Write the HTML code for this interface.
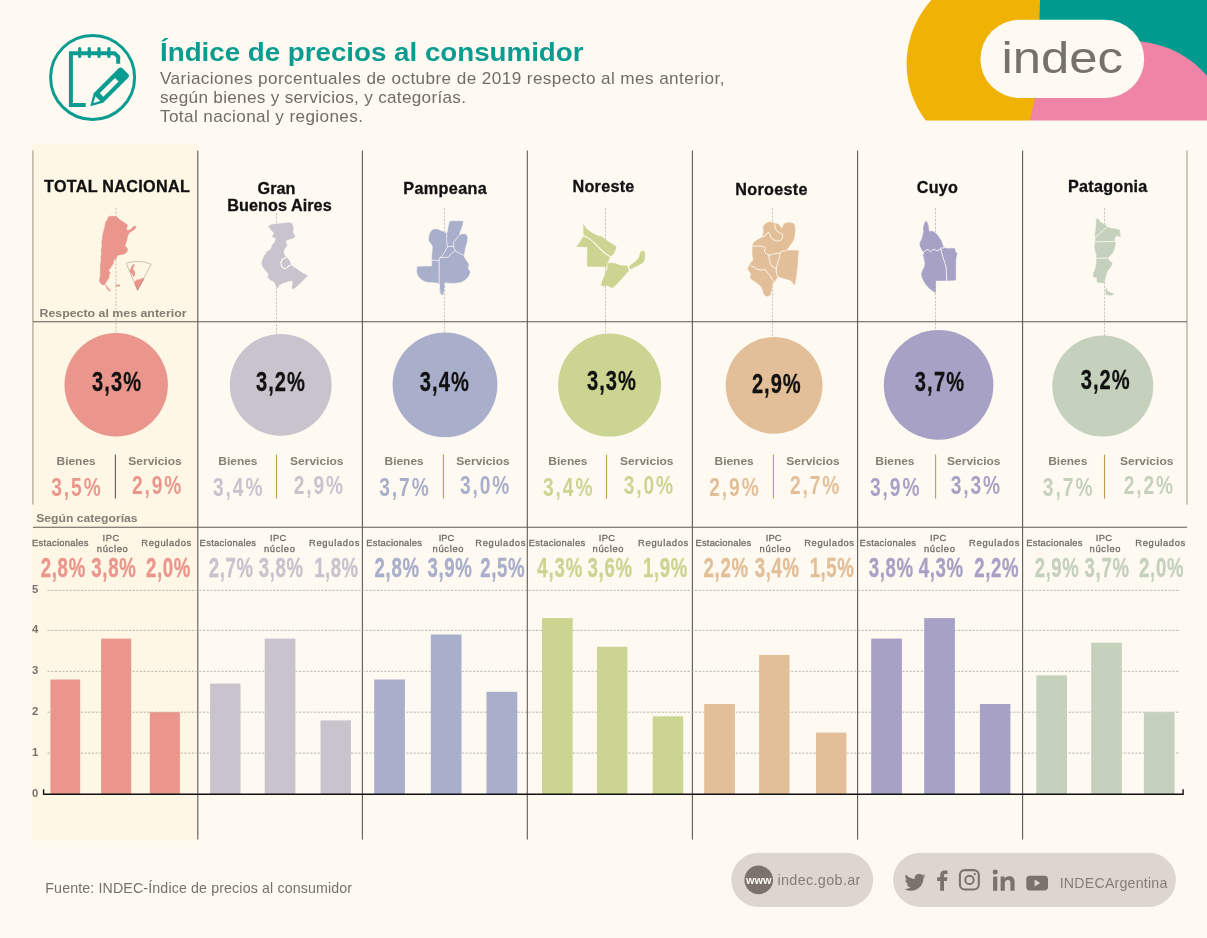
<!DOCTYPE html>
<html lang="es"><head><meta charset="utf-8"><title>Índice de precios al consumidor</title>
<style>html,body{margin:0;padding:0;background:#fefaf2;}body{width:1207px;height:938px;overflow:hidden;position:relative;font-family:"Liberation Sans",sans-serif;}svg{position:absolute;left:0;top:0;display:block}text{font-family:"Liberation Sans",sans-serif}.b{font-weight:bold}</style></head><body>
<svg width="1207" height="938" viewBox="0 0 1207 938">
<rect width="1207" height="938" fill="#fefaf2"/>
<g id="logo">
<g>
<circle cx="1000.7" cy="63.8" r="94.1" fill="#f0b205"/>
<path d="M1040 0 L1207 0 L1207 99 L1034.7 99 Q1039 50 1040 0Z" fill="#009b8e"/>
<circle cx="1131" cy="141" r="100" fill="#f084a6"/>
<path d="M1029.9 121 L1034.9 98 L1075 98 L1075 121Z" fill="#f084a6"/>
</g>
<rect x="880" y="120.5" width="327" height="125" fill="#fefaf2"/>
<rect x="980.4" y="19.7" width="163.8" height="78.4" rx="39.2" fill="#fefaf2"/>
<text x="1001.5" y="72.5" font-size="44.5" fill="#77716b" textLength="121.5" lengthAdjust="spacingAndGlyphs">indec</text>
</g>
<g id="icon" fill="none" stroke="#0a9c90">
<circle cx="92.6" cy="77.4" r="42" stroke-width="3"/>
<path d="M85.7 104.9 H70.9 V53.2 H114.5 L118.2 56.9 V63.8" stroke-width="4"/>
<line x1="79.7" y1="48.6" x2="79.7" y2="56.4" stroke-width="3.2" stroke-linecap="round"/>
<line x1="89.3" y1="48.6" x2="89.3" y2="56.4" stroke-width="3.2" stroke-linecap="round"/>
<line x1="99.0" y1="48.6" x2="99.0" y2="56.4" stroke-width="3.2" stroke-linecap="round"/>
<line x1="108.9" y1="48.6" x2="108.9" y2="56.4" stroke-width="3.2" stroke-linecap="round"/>
<g transform="translate(90.3 106.2) rotate(-45)">
<path d="M0 0 L11.5 -6.7 H46.5 a3 3 0 0 1 3 3 V3.7 a3 3 0 0 1 -3 3 H11.5 Z" fill="#0a9c90" stroke="none"/>
<path d="M4.4 0 L10.6 -3.3 V3.3 Z" fill="#fefaf2" stroke="none"/>
<rect x="16" y="-2.5" width="21.5" height="5" fill="#fefaf2" stroke="none"/>
</g></g>
<text x="160.0" y="60.6" font-size="26.5" fill="#0a9c90" class="b" textLength="423.5" lengthAdjust="spacingAndGlyphs">Índice de precios al consumidor</text>
<text transform="translate(160.0 84.1) scale(1.060 1)" font-size="16.2" fill="#726c66" textLength="532.5" lengthAdjust="spacing">Variaciones porcentuales de octubre de 2019 respecto al mes anterior,</text>
<text transform="translate(160.0 103.2) scale(1.060 1)" font-size="16.2" fill="#726c66" textLength="288.7" lengthAdjust="spacing">según bienes y servicios, y categorías.</text>
<text transform="translate(160.0 121.6) scale(1.060 1)" font-size="16.2" fill="#726c66" textLength="191.5" lengthAdjust="spacing">Total nacional y regiones.</text>
<rect x="31.9" y="144.2" width="165.5" height="696.6" fill="#fef7e5"/>
<line x1="32.9" y1="150.5" x2="32.9" y2="504.5" stroke="#a39d91" stroke-width="1.1"/>
<line x1="197.8" y1="150.5" x2="197.8" y2="839.4" stroke="#5e5a54" stroke-width="1.1"/>
<line x1="362.4" y1="150.5" x2="362.4" y2="839.4" stroke="#5e5a54" stroke-width="1.1"/>
<line x1="527.3" y1="150.5" x2="527.3" y2="839.4" stroke="#5e5a54" stroke-width="1.1"/>
<line x1="692.4" y1="150.5" x2="692.4" y2="839.4" stroke="#5e5a54" stroke-width="1.1"/>
<line x1="857.6" y1="150.5" x2="857.6" y2="839.4" stroke="#5e5a54" stroke-width="1.1"/>
<line x1="1022.6" y1="150.5" x2="1022.6" y2="839.4" stroke="#5e5a54" stroke-width="1.1"/>
<line x1="1187.0" y1="150.5" x2="1187.0" y2="504.5" stroke="#a39d91" stroke-width="1.1"/>
<line x1="32.9" y1="321.7" x2="1187" y2="321.7" stroke="#5e5a54" stroke-width="1.1"/>
<line x1="32.9" y1="527.3" x2="1187" y2="527.3" stroke="#5e5a54" stroke-width="1.1"/>
<line x1="47.5" y1="753.1" x2="1180" y2="753.1" stroke="#aaa59d" stroke-width="0.8" stroke-dasharray="2.2 1.5"/>
<line x1="47.5" y1="712.2" x2="1180" y2="712.2" stroke="#aaa59d" stroke-width="0.8" stroke-dasharray="2.2 1.5"/>
<line x1="47.5" y1="671.3" x2="1180" y2="671.3" stroke="#aaa59d" stroke-width="0.8" stroke-dasharray="2.2 1.5"/>
<line x1="47.5" y1="630.4" x2="1180" y2="630.4" stroke="#aaa59d" stroke-width="0.8" stroke-dasharray="2.2 1.5"/>
<line x1="47.5" y1="590.4" x2="1180" y2="590.4" stroke="#aaa59d" stroke-width="0.8" stroke-dasharray="2.2 1.5"/>
<text class="b" x="35.2" y="796.5" font-size="11.3" text-anchor="middle" fill="#77716b">0</text>
<text class="b" x="35.2" y="755.6" font-size="11.3" text-anchor="middle" fill="#77716b">1</text>
<text class="b" x="35.2" y="714.7" font-size="11.3" text-anchor="middle" fill="#77716b">2</text>
<text class="b" x="35.2" y="673.8" font-size="11.3" text-anchor="middle" fill="#77716b">3</text>
<text class="b" x="35.2" y="632.9" font-size="11.3" text-anchor="middle" fill="#77716b">4</text>
<text class="b" x="35.2" y="592.9" font-size="11.3" text-anchor="middle" fill="#77716b">5</text>
<text x="39.5" y="316.9" font-size="11.4" fill="#837c72" class="b" textLength="147.0" lengthAdjust="spacingAndGlyphs">Respecto al mes anterior</text>
<text x="36.2" y="521.9" font-size="11.4" fill="#837c72" class="b" textLength="101.4" lengthAdjust="spacingAndGlyphs">Según categorías</text>
<g id="col0">
<line x1="115.9" y1="208" x2="115.9" y2="334.1" stroke="#bab5ad" stroke-width="0.8" stroke-dasharray="2.2 1.5"/>
<path d="M108.6 216.8L110.9 216.2L113.6 216.5L115.9 216.3L117.7 217.7L119.5 219.5L122.2 221.3L125.4 223.6L127.5 225.0L126.9 227.2L126.3 229.5L128.1 230.4L130.4 229.5L132.6 227.7L134.0 226.1L135.6 226.3L135.8 227.7L134.4 229.5L132.2 230.9L129.9 232.2L128.5 234.0L127.6 236.3L126.9 239.0L126.3 241.7L125.4 244.5L124.9 246.3L126.3 247.2L127.5 249.0L127.2 251.3L125.8 253.1L124.0 254.0L121.7 254.4L119.0 254.9L116.8 255.8L116.6 258.1L115.4 259.4L113.6 259.9L113.1 262.1L113.6 263.0L112.7 264.4L111.3 266.2L110.4 268.0L109.1 269.4L108.6 270.7L110.0 272.6L109.7 274.4L108.6 275.3L109.5 277.1L108.1 278.9L106.8 280.7L105.9 282.5L105.0 283.9L104.1 284.8L102.3 284.8L100.4 283.0L99.4 280.7L100.0 278.0L100.4 275.3L100.3 271.7L100.6 268.0L100.4 264.4L101.2 260.8L100.9 257.1L101.5 253.5L101.3 249.9L102.1 246.3L101.8 242.6L102.3 239.0L102.7 235.4L103.3 232.7L104.1 229.9L104.8 227.2L105.2 224.5L105.9 221.8L107.2 220.0L108.1 218.2Z" fill="#ea968c" stroke="#ea968c" stroke-width="0.6" stroke-linejoin="round"/>
<path d="M105.4 284.8L106.3 287.1L107.2 288.9L108.6 290.2L110.9 291.1L110.0 290.0L108.6 288.7L107.2 286.9Z" fill="#ea968c" stroke="#ea968c" stroke-width="0.6" stroke-linejoin="round"/>
<path d="M115.9 284.9L119.7 284.9L119.9 286.0L116.0 286.2Z" fill="#ea968c" stroke="#ea968c" stroke-width="0.6" stroke-linejoin="round"/>
<path d="M133.1 264.4L134.4 264.9L133.5 267.1L132.6 268.9L134.0 270.7L134.9 272.6L134.4 274.4L134.9 275.7L133.5 276.2L132.2 274.4L130.8 272.6L129.9 270.7L130.8 268.9L131.7 266.7Z" fill="#ea968c" stroke="#ea968c" stroke-width="0.6" stroke-linejoin="round"/>
<path d="M134.9 281.6L136.3 280.7L137.2 279.4L138.5 280.3L139.9 278.9L141.2 279.4L142.1 278.0L144.0 278.9L137.6 290.2L135.8 286.2L134.9 283.4Z" fill="#ea968c" stroke="#ea968c" stroke-width="0.6" stroke-linejoin="round"/>
<path d="M137.6 290.2L126.3 263.5L128.5 262.4L135.8 261.5L144.0 261.9L151.2 264.2Z" fill="none" stroke="#9a8680" stroke-width="0.5" stroke-linejoin="round"/>
<text x="44.0" y="192.3" font-size="16.2" fill="#111" class="b" textLength="145.8" lengthAdjust="spacing" stroke="#111" stroke-width="0.3">TOTAL NACIONAL</text>
<circle cx="116.2" cy="384.8" r="51.7" fill="#ea968c"/>
<text class="b" transform="translate(92.10 390.6) scale(0.750 1)" font-size="26.8" fill="#111" letter-spacing="1.46" stroke="#111" stroke-width="0.30">3,3%</text>
<line x1="115.4" y1="454.6" x2="115.4" y2="498.6" stroke="#625a66" stroke-width="1.1"/>
<text x="56.5" y="464.8" font-size="11.2" fill="#857e74" class="b" textLength="39.2" lengthAdjust="spacingAndGlyphs">Bienes</text>
<text x="128.3" y="464.8" font-size="11.2" fill="#857e74" class="b" textLength="53.4" lengthAdjust="spacingAndGlyphs">Servicios</text>
<text class="b" transform="translate(51.13 495.8) scale(0.740 1)" font-size="25.9" fill="#ea968c" letter-spacing="2.68">3,5%</text>
<text class="b" transform="translate(131.93 494.4) scale(0.740 1)" font-size="25.9" fill="#ea968c" letter-spacing="2.55">2,9%</text>
<text x="32.0" y="546.0" font-size="9.4" fill="#726c66" textLength="56.4" lengthAdjust="spacing" stroke="#726c66" stroke-width="0.3">Estacionales</text>
<text x="102.5" y="541.3" font-size="9.4" fill="#726c66" textLength="16.7" lengthAdjust="spacing" stroke="#726c66" stroke-width="0.3">IPC</text>
<text x="96.8" y="551.5" font-size="9.4" fill="#726c66" textLength="31.0" lengthAdjust="spacing" stroke="#726c66" stroke-width="0.3">núcleo</text>
<text x="141.3" y="546.0" font-size="9.4" fill="#726c66" textLength="49.9" lengthAdjust="spacing" stroke="#726c66" stroke-width="0.3">Regulados</text>
<rect x="50.4" y="679.5" width="29.8" height="114.5" fill="#ea968c"/>
<rect x="101.1" y="638.6" width="30.1" height="155.4" fill="#ea968c"/>
<rect x="149.8" y="712.2" width="30.1" height="81.8" fill="#ea968c"/>
<text class="b" transform="translate(40.65 577.0) scale(0.690 1)" font-size="27" fill="#ea968c" letter-spacing="1.03" stroke="#ea968c" stroke-width="0.35">2,8%</text>
<text class="b" transform="translate(91.25 577.0) scale(0.690 1)" font-size="27" fill="#ea968c" letter-spacing="1.08" stroke="#ea968c" stroke-width="0.35">3,8%</text>
<text class="b" transform="translate(145.95 577.0) scale(0.690 1)" font-size="27" fill="#ea968c" letter-spacing="0.94" stroke="#ea968c" stroke-width="0.35">2,0%</text>
</g>
<g id="col1">
<line x1="276.5" y1="213" x2="276.5" y2="334.9" stroke="#bab5ad" stroke-width="0.8" stroke-dasharray="2.2 1.5"/>
<path d="M268.6 226.1L272.1 224.5L276.3 224.0L280.6 223.7L284.8 223.1L289.1 222.8L291.7 223.5L292.9 226.1L293.2 229.5L292.5 232.1L293.8 234.2L295.1 236.3L293.8 237.8L291.7 238.4L289.1 239.3L286.5 240.1L285.3 242.3L287.0 244.0L286.5 246.5L284.8 247.8L284.0 250.0L283.6 252.5L284.4 255.1L285.7 256.8L287.0 258.1L288.7 259.8L290.0 262.3L290.8 265.3L293.4 267.0L296.8 269.1L300.2 271.7L304.4 274.2L307.4 275.7L305.3 278.1L302.3 281.1L299.3 284.1L295.9 287.0L292.9 289.2L292.1 286.6L292.9 283.2L292.5 280.6L289.1 281.1L285.7 281.9L282.3 283.2L279.3 284.9L277.6 287.5L275.9 285.8L275.0 282.8L272.9 281.1L270.8 280.2L268.6 278.1L267.8 276.0L269.1 274.7L266.9 272.1L264.8 269.6L262.7 266.2L261.8 262.7L263.1 258.5L264.4 255.9L266.1 253.4L266.9 251.7L270.3 250.0L271.6 247.4L272.5 244.8L274.6 243.1L275.5 240.6L276.3 238.4L274.2 237.6L272.5 236.7L273.3 234.6L274.2 232.9L271.6 230.3L269.9 228.6Z" fill="#c8c3cc" stroke="#c8c3cc" stroke-width="0.6" stroke-linejoin="round"/>
<path d="M285.9 257.5L282.5 259.3L280.7 262.7L281.8 266.6L284.4 268.7L287.4 267.2L290.0 265.1" fill="none" stroke="#fefaf2" stroke-width="1.20" stroke-linejoin="round" stroke-linecap="round"/>
<text x="257.6" y="193.8" font-size="16.2" fill="#111" class="b" textLength="37.9" lengthAdjust="spacing" stroke="#111" stroke-width="0.3">Gran</text>
<text x="227.2" y="211.2" font-size="16.2" fill="#111" class="b" textLength="104.5" lengthAdjust="spacing" stroke="#111" stroke-width="0.3">Buenos Aires</text>
<circle cx="280.7" cy="384.8" r="50.9" fill="#c8c3cc"/>
<text class="b" transform="translate(256.00 390.9) scale(0.750 1)" font-size="26.8" fill="#111" letter-spacing="1.33" stroke="#111" stroke-width="0.30">3,2%</text>
<line x1="276.5" y1="454.6" x2="276.5" y2="498.6" stroke="#c09a50" stroke-width="1.1"/>
<text x="218.3" y="464.8" font-size="11.2" fill="#857e74" class="b" textLength="39.2" lengthAdjust="spacingAndGlyphs">Bienes</text>
<text x="290.1" y="464.8" font-size="11.2" fill="#857e74" class="b" textLength="53.4" lengthAdjust="spacingAndGlyphs">Servicios</text>
<text class="b" transform="translate(212.93 495.8) scale(0.740 1)" font-size="25.9" fill="#c8c3cc" letter-spacing="2.68">3,4%</text>
<text class="b" transform="translate(293.73 494.4) scale(0.740 1)" font-size="25.9" fill="#c8c3cc" letter-spacing="2.55">2,9%</text>
<text x="199.6" y="546.0" font-size="9.4" fill="#726c66" textLength="56.4" lengthAdjust="spacing" stroke="#726c66" stroke-width="0.3">Estacionales</text>
<text x="270.0" y="541.3" font-size="9.4" fill="#726c66" textLength="16.4" lengthAdjust="spacing" stroke="#726c66" stroke-width="0.3">IPC</text>
<text x="263.9" y="551.5" font-size="9.4" fill="#726c66" textLength="31.0" lengthAdjust="spacing" stroke="#726c66" stroke-width="0.3">núcleo</text>
<text x="308.9" y="546.0" font-size="9.4" fill="#726c66" textLength="50.5" lengthAdjust="spacing" stroke="#726c66" stroke-width="0.3">Regulados</text>
<rect x="210.1" y="683.6" width="30.4" height="110.4" fill="#c8c3cc"/>
<rect x="264.7" y="638.6" width="30.7" height="155.4" fill="#c8c3cc"/>
<rect x="320.5" y="720.4" width="30.4" height="73.6" fill="#c8c3cc"/>
<text class="b" transform="translate(208.75 577.0) scale(0.690 1)" font-size="27" fill="#c8c3cc" letter-spacing="0.94" stroke="#c8c3cc" stroke-width="0.35">2,7%</text>
<text class="b" transform="translate(258.85 577.0) scale(0.690 1)" font-size="27" fill="#c8c3cc" letter-spacing="0.84" stroke="#c8c3cc" stroke-width="0.35">3,8%</text>
<text class="b" transform="translate(314.35 577.0) scale(0.690 1)" font-size="27" fill="#c8c3cc" letter-spacing="0.55" stroke="#c8c3cc" stroke-width="0.35">1,8%</text>
</g>
<g id="col2">
<line x1="444.6" y1="208" x2="444.6" y2="333.4" stroke="#bab5ad" stroke-width="0.8" stroke-dasharray="2.2 1.5"/>
<path d="M450.1 221.2L462.8 221.2L462.3 225.0L461.0 228.6L459.6 232.2L458.7 235.9L461.4 234.5L464.1 234.0L466.4 234.9L467.3 237.7L466.9 241.3L465.9 244.9L465.0 248.5L464.4 251.3L463.7 254.9L464.1 257.6L465.9 260.3L467.8 263.1L468.7 264.9L467.8 267.1L468.2 269.4L470.0 271.7L469.1 274.8L467.3 277.6L465.0 279.8L461.9 281.6L458.2 282.5L453.7 283.0L449.2 282.8L445.5 282.3L443.7 282.5L444.2 285.7L443.9 289.3L443.3 293.0L442.4 294.8L440.1 293.4L439.7 289.3L440.1 285.7L439.2 283.4L436.5 282.5L431.9 282.1L427.4 281.9L423.8 280.7L420.6 278.5L418.3 275.7L417.0 272.1L417.3 266.9L422.0 266.7L427.4 266.5L432.1 266.5L432.1 260.3L432.1 255.8L432.7 251.3L433.0 246.7L431.5 244.0L429.2 241.3L429.0 237.7L429.7 234.0L431.5 230.9L433.8 229.3L437.4 229.5L441.0 230.9L444.2 232.2L446.9 234.0L447.8 231.3L448.7 226.8L449.4 223.2Z" fill="#a9aeca" stroke="#a9aeca" stroke-width="0.6" stroke-linejoin="round"/>
<path d="M446.9 234.0L446.5 238.6L446.9 243.1L447.5 246.7L445.1 251.3L442.4 255.3L440.1 257.6L439.2 260.3L439.2 283.4L440.1 293.4" fill="none" stroke="#fefaf2" stroke-width="0.75" stroke-linejoin="round" stroke-linecap="round"/>
<path d="M432.1 260.3L439.2 260.3" fill="none" stroke="#fefaf2" stroke-width="0.75" stroke-linejoin="round" stroke-linecap="round"/>
<path d="M458.7 235.9L455.5 239.9L453.7 242.2L453.7 246.7L455.1 250.8L459.1 253.1L464.1 255.3" fill="none" stroke="#fefaf2" stroke-width="0.75" stroke-linejoin="round" stroke-linecap="round"/>
<path d="M455.1 250.8L451.9 253.1L448.3 257.2L440.1 257.6" fill="none" stroke="#fefaf2" stroke-width="0.75" stroke-linejoin="round" stroke-linecap="round"/>
<path d="M447.5 246.7L450.1 246.3L453.7 246.7" fill="none" stroke="#fefaf2" stroke-width="0.75" stroke-linejoin="round" stroke-linecap="round"/>
<text x="403.2" y="193.8" font-size="16.2" fill="#111" class="b" textLength="83.6" lengthAdjust="spacing" stroke="#111" stroke-width="0.3">Pampeana</text>
<circle cx="445.0" cy="384.8" r="52.4" fill="#a9aeca"/>
<text class="b" transform="translate(419.70 390.9) scale(0.750 1)" font-size="26.8" fill="#111" letter-spacing="1.55" stroke="#111" stroke-width="0.30">3,4%</text>
<line x1="443.4" y1="454.6" x2="443.4" y2="498.6" stroke="#c09a50" stroke-width="1.1"/>
<text x="384.5" y="464.8" font-size="11.2" fill="#857e74" class="b" textLength="39.2" lengthAdjust="spacingAndGlyphs">Bienes</text>
<text x="456.3" y="464.8" font-size="11.2" fill="#857e74" class="b" textLength="53.4" lengthAdjust="spacingAndGlyphs">Servicios</text>
<text class="b" transform="translate(379.13 495.8) scale(0.740 1)" font-size="25.9" fill="#a9aeca" letter-spacing="2.68">3,7%</text>
<text class="b" transform="translate(459.93 494.4) scale(0.740 1)" font-size="25.9" fill="#a9aeca" letter-spacing="2.55">3,0%</text>
<text x="366.3" y="546.0" font-size="9.4" fill="#726c66" textLength="55.7" lengthAdjust="spacing" stroke="#726c66" stroke-width="0.3">Estacionales</text>
<text x="438.7" y="541.3" font-size="9.4" fill="#726c66" textLength="15.7" lengthAdjust="spacing" stroke="#726c66" stroke-width="0.3">IPC</text>
<text x="432.5" y="551.5" font-size="9.4" fill="#726c66" textLength="31.0" lengthAdjust="spacing" stroke="#726c66" stroke-width="0.3">núcleo</text>
<text x="475.3" y="546.0" font-size="9.4" fill="#726c66" textLength="50.1" lengthAdjust="spacing" stroke="#726c66" stroke-width="0.3">Regulados</text>
<rect x="374.2" y="679.5" width="30.7" height="114.5" fill="#a9aeca"/>
<rect x="430.8" y="634.5" width="30.7" height="159.5" fill="#a9aeca"/>
<rect x="486.5" y="691.8" width="30.8" height="102.2" fill="#a9aeca"/>
<text class="b" transform="translate(374.55 577.0) scale(0.690 1)" font-size="27" fill="#a9aeca" letter-spacing="0.94" stroke="#a9aeca" stroke-width="0.35">2,8%</text>
<text class="b" transform="translate(427.45 577.0) scale(0.690 1)" font-size="27" fill="#a9aeca" letter-spacing="0.94" stroke="#a9aeca" stroke-width="0.35">3,9%</text>
<text class="b" transform="translate(480.15 577.0) scale(0.690 1)" font-size="27" fill="#a9aeca" letter-spacing="0.94" stroke="#a9aeca" stroke-width="0.35">2,5%</text>
</g>
<g id="col3">
<line x1="605.5" y1="208" x2="605.5" y2="334.6" stroke="#bab5ad" stroke-width="0.8" stroke-dasharray="2.2 1.5"/>
<path d="M583.5 224.6L585.4 227.7L588.5 230.4L592.7 233.4L597.3 235.7L601.2 236.5L604.2 238.8L608.1 241.5L611.9 243.8L616.1 246.5L615.4 249.9L613.8 253.0L611.1 256.5L608.1 254.5L604.2 251.8L600.8 248.8L597.3 244.9L593.5 241.5L589.7 238.4L585.8 236.1L583.9 235.0L583.7 230.0Z" fill="#ccd492" stroke="#ccd492" stroke-width="0.6" stroke-linejoin="round"/>
<path d="M583.4 236.5L585.4 237.3L589.3 239.6L593.1 242.6L596.9 246.5L600.4 250.3L603.8 253.4L607.7 255.9L609.6 257.2L608.5 260.7L606.9 264.1L606.7 266.4L597.3 266.4L587.3 266.3L587.3 256.8L587.7 246.9L582.0 246.7L576.6 246.5L580.1 242.3Z" fill="#ccd492" stroke="#ccd492" stroke-width="0.6" stroke-linejoin="round"/>
<path d="M608.1 263.4L611.9 263.0L615.7 263.7L619.6 265.3L624.2 266.0L626.9 265.7L627.6 268.0L628.8 270.7L625.7 274.1L621.9 278.3L617.7 282.9L613.8 286.8L611.9 287.9L609.6 286.4L606.9 285.2L603.8 286.0L601.2 285.6L602.3 281.4L604.2 276.8L606.2 272.2L607.7 267.6Z" fill="#ccd492" stroke="#ccd492" stroke-width="0.6" stroke-linejoin="round"/>
<path d="M629.2 266.4L632.6 263.7L636.5 260.7L639.5 256.8L640.3 253.0L641.8 251.1L644.1 251.5L644.9 254.5L644.5 259.1L643.0 262.6L639.5 264.5L635.7 266.4L632.2 268.3L630.3 269.1Z" fill="#ccd492" stroke="#ccd492" stroke-width="0.6" stroke-linejoin="round"/>
<path d="M583.4 235.7L585.8 236.7L589.7 239.0L593.5 242.1L597.3 245.7L600.8 249.5L604.2 252.6L608.1 255.2L610.8 257.0" fill="none" stroke="#fefaf2" stroke-width="1.00" stroke-linejoin="round" stroke-linecap="round"/>
<text x="572.5" y="192.0" font-size="16.2" fill="#111" class="b" textLength="61.8" lengthAdjust="spacing" stroke="#111" stroke-width="0.3">Noreste</text>
<circle cx="609.6" cy="385.1" r="51.5" fill="#ccd492"/>
<text class="b" transform="translate(587.10 389.8) scale(0.750 1)" font-size="26.8" fill="#111" letter-spacing="1.33" stroke="#111" stroke-width="0.30">3,3%</text>
<line x1="606.5" y1="454.6" x2="606.5" y2="498.6" stroke="#c09a50" stroke-width="1.1"/>
<text x="548.3" y="464.8" font-size="11.2" fill="#857e74" class="b" textLength="39.2" lengthAdjust="spacingAndGlyphs">Bienes</text>
<text x="620.1" y="464.8" font-size="11.2" fill="#857e74" class="b" textLength="53.4" lengthAdjust="spacingAndGlyphs">Servicios</text>
<text class="b" transform="translate(542.93 495.8) scale(0.740 1)" font-size="25.9" fill="#ccd492" letter-spacing="2.68">3,4%</text>
<text class="b" transform="translate(623.73 494.4) scale(0.740 1)" font-size="25.9" fill="#ccd492" letter-spacing="2.55">3,0%</text>
<text x="528.8" y="546.0" font-size="9.4" fill="#726c66" textLength="56.3" lengthAdjust="spacing" stroke="#726c66" stroke-width="0.3">Estacionales</text>
<text x="598.7" y="541.3" font-size="9.4" fill="#726c66" textLength="16.3" lengthAdjust="spacing" stroke="#726c66" stroke-width="0.3">IPC</text>
<text x="592.5" y="551.5" font-size="9.4" fill="#726c66" textLength="31.0" lengthAdjust="spacing" stroke="#726c66" stroke-width="0.3">núcleo</text>
<text x="638.1" y="546.0" font-size="9.4" fill="#726c66" textLength="50.1" lengthAdjust="spacing" stroke="#726c66" stroke-width="0.3">Regulados</text>
<rect x="542.0" y="618.1" width="30.7" height="175.9" fill="#ccd492"/>
<rect x="597.0" y="646.8" width="30.4" height="147.2" fill="#ccd492"/>
<rect x="652.7" y="716.3" width="30.5" height="77.7" fill="#ccd492"/>
<text class="b" transform="translate(537.35 577.0) scale(0.690 1)" font-size="27" fill="#ccd492" letter-spacing="1.23" stroke="#ccd492" stroke-width="0.35">4,3%</text>
<text class="b" transform="translate(587.45 577.0) scale(0.690 1)" font-size="27" fill="#ccd492" letter-spacing="1.08" stroke="#ccd492" stroke-width="0.35">3,6%</text>
<text class="b" transform="translate(642.95 577.0) scale(0.690 1)" font-size="27" fill="#ccd492" letter-spacing="0.94" stroke="#ccd492" stroke-width="0.35">1,9%</text>
</g>
<g id="col4">
<line x1="772.6" y1="208" x2="772.6" y2="338.0" stroke="#bab5ad" stroke-width="0.8" stroke-dasharray="2.2 1.5"/>
<path d="M764.3 225.0L767.3 222.8L770.0 221.9L772.6 222.8L775.2 223.7L777.8 224.1L779.6 225.4L780.9 227.6L782.2 228.9L783.1 226.3L784.4 223.7L787.5 222.8L791.0 222.8L794.0 224.1L794.9 227.6L794.9 232.0L794.4 236.4L793.6 239.9L791.4 243.3L789.2 246.0L787.5 248.6L786.1 250.8L791.0 250.5L798.4 250.8L797.9 257.3L797.5 264.3L796.6 272.2L795.8 279.2L794.4 284.9L792.7 282.2L790.1 280.1L785.7 278.8L781.3 277.4L777.8 276.6L776.5 278.3L775.2 280.9L772.6 283.1L771.7 287.1L771.3 290.6L770.4 294.5L768.2 296.2L765.6 295.8L763.9 294.0L763.0 290.6L761.7 287.1L758.6 284.0L755.1 281.4L751.6 279.2L750.3 277.4L751.2 273.9L749.4 271.3L747.7 269.1L749.4 265.6L751.2 262.6L753.4 260.0L752.9 256.5L752.5 253.0L752.7 248.6L752.9 245.1L753.8 242.5L756.9 240.3L760.4 238.5L762.5 236.8L763.4 233.7L763.9 230.2L763.0 227.6Z" fill="#e2bf98" stroke="#e2bf98" stroke-width="0.6" stroke-linejoin="round"/>
<path d="M762.5 236.8L765.2 235.9L766.9 233.3L768.7 232.4L770.0 234.6L770.8 237.7L773.9 239.9L777.8 241.2L780.9 240.3L782.6 237.7L782.6 234.2L779.6 232.9L777.0 231.1L775.2 228.1L774.8 224.6" fill="none" stroke="#fefaf2" stroke-width="0.90" stroke-linejoin="round" stroke-linecap="round"/>
<path d="M752.9 246.1L757.7 246.1L763.0 246.4L765.6 248.2L764.3 251.2L766.5 253.8L769.1 255.2L772.6 254.3L777.0 253.4L780.5 253.0L781.8 251.2L786.1 250.8" fill="none" stroke="#fefaf2" stroke-width="0.90" stroke-linejoin="round" stroke-linecap="round"/>
<path d="M780.5 253.0L779.6 256.5L778.3 260.8L777.0 265.2L776.1 269.6L776.5 273.9L777.8 276.6" fill="none" stroke="#fefaf2" stroke-width="0.90" stroke-linejoin="round" stroke-linecap="round"/>
<path d="M768.7 255.2L769.1 259.1L770.4 263.5L772.2 266.5L775.2 267.8L776.3 269.6" fill="none" stroke="#fefaf2" stroke-width="0.90" stroke-linejoin="round" stroke-linecap="round"/>
<path d="M750.7 265.6L754.2 267.4L757.7 269.6L762.1 270.0L765.2 269.6L767.3 272.6L770.0 275.7L772.2 279.2L773.9 281.4" fill="none" stroke="#fefaf2" stroke-width="0.90" stroke-linejoin="round" stroke-linecap="round"/>
<text x="735.3" y="194.8" font-size="16.2" fill="#111" class="b" textLength="72.2" lengthAdjust="spacing" stroke="#111" stroke-width="0.3">Noroeste</text>
<circle cx="774.1" cy="385.4" r="48.4" fill="#e2bf98"/>
<text class="b" transform="translate(751.90 392.6) scale(0.750 1)" font-size="26.8" fill="#111" letter-spacing="1.33" stroke="#111" stroke-width="0.30">2,9%</text>
<line x1="773.4" y1="454.6" x2="773.4" y2="498.6" stroke="#c09a50" stroke-width="1.1"/>
<text x="714.5" y="464.8" font-size="11.2" fill="#857e74" class="b" textLength="39.2" lengthAdjust="spacingAndGlyphs">Bienes</text>
<text x="786.3" y="464.8" font-size="11.2" fill="#857e74" class="b" textLength="53.4" lengthAdjust="spacingAndGlyphs">Servicios</text>
<text class="b" transform="translate(709.13 495.8) scale(0.740 1)" font-size="25.9" fill="#e2bf98" letter-spacing="2.68">2,9%</text>
<text class="b" transform="translate(789.93 494.4) scale(0.740 1)" font-size="25.9" fill="#e2bf98" letter-spacing="2.55">2,7%</text>
<text x="695.4" y="546.0" font-size="9.4" fill="#726c66" textLength="55.8" lengthAdjust="spacing" stroke="#726c66" stroke-width="0.3">Estacionales</text>
<text x="765.8" y="541.3" font-size="9.4" fill="#726c66" textLength="15.8" lengthAdjust="spacing" stroke="#726c66" stroke-width="0.3">IPC</text>
<text x="759.6" y="551.5" font-size="9.4" fill="#726c66" textLength="31.0" lengthAdjust="spacing" stroke="#726c66" stroke-width="0.3">núcleo</text>
<text x="804.2" y="546.0" font-size="9.4" fill="#726c66" textLength="49.8" lengthAdjust="spacing" stroke="#726c66" stroke-width="0.3">Regulados</text>
<rect x="704.2" y="704.0" width="30.7" height="90.0" fill="#e2bf98"/>
<rect x="759.1" y="654.9" width="30.4" height="139.1" fill="#e2bf98"/>
<rect x="816.0" y="732.6" width="30.4" height="61.3" fill="#e2bf98"/>
<text class="b" transform="translate(703.45 577.0) scale(0.690 1)" font-size="27" fill="#e2bf98" letter-spacing="1.03" stroke="#e2bf98" stroke-width="0.35">2,2%</text>
<text class="b" transform="translate(754.65 577.0) scale(0.690 1)" font-size="27" fill="#e2bf98" letter-spacing="0.94" stroke="#e2bf98" stroke-width="0.35">3,4%</text>
<text class="b" transform="translate(809.65 577.0) scale(0.690 1)" font-size="27" fill="#e2bf98" letter-spacing="0.79" stroke="#e2bf98" stroke-width="0.35">1,5%</text>
</g>
<g id="col5">
<line x1="935.5" y1="208" x2="935.5" y2="331.1" stroke="#bab5ad" stroke-width="0.8" stroke-dasharray="2.2 1.5"/>
<path d="M925.8 220.9L927.3 222.9L928.2 225.5L928.6 229.0L929.0 231.6L932.1 231.2L934.7 232.5L937.3 235.1L939.5 238.2L941.3 241.2L942.6 244.7L943.5 247.8L947.0 248.7L951.3 248.4L954.8 248.7L955.3 251.7L957.0 253.5L956.1 257.0L955.7 260.5L955.7 280.1L947.0 280.4L935.6 280.6L935.6 284.9L935.4 292.4L933.0 291.0L929.5 288.4L926.4 284.9L923.8 281.0L922.1 277.1L921.6 273.6L922.9 270.1L924.7 266.6L925.1 263.1L924.2 258.7L923.4 255.2L924.2 252.6L922.1 250.0L919.9 245.6L920.3 242.1L922.1 238.6L922.9 235.1L923.8 231.6L923.4 228.1L924.2 224.6Z" fill="#a8a1c6" stroke="#a8a1c6" stroke-width="0.6" stroke-linejoin="round"/>
<path d="M923.8 252.2L926.0 250.0L928.2 249.5L930.4 251.7L932.5 250.0L934.7 249.5L936.9 250.8L939.1 250.0L940.8 248.7L941.3 247.8L943.5 248.0" fill="none" stroke="#fefaf2" stroke-width="0.90" stroke-linejoin="round" stroke-linecap="round"/>
<path d="M940.8 248.7L941.7 252.6L943.0 257.8L944.8 262.6L946.1 267.4L946.5 274.4L946.7 280.4" fill="none" stroke="#fefaf2" stroke-width="0.90" stroke-linejoin="round" stroke-linecap="round"/>
<text x="916.7" y="193.4" font-size="16.2" fill="#111" class="b" textLength="41.3" lengthAdjust="spacing" stroke="#111" stroke-width="0.3">Cuyo</text>
<circle cx="938.6" cy="384.9" r="54.8" fill="#a8a1c6"/>
<text class="b" transform="translate(914.70 390.9) scale(0.750 1)" font-size="26.8" fill="#111" letter-spacing="1.64" stroke="#111" stroke-width="0.30">3,7%</text>
<line x1="935.6" y1="454.6" x2="935.6" y2="498.6" stroke="#c09a50" stroke-width="1.1"/>
<text x="875.3" y="464.8" font-size="11.2" fill="#857e74" class="b" textLength="39.2" lengthAdjust="spacingAndGlyphs">Bienes</text>
<text x="947.1" y="464.8" font-size="11.2" fill="#857e74" class="b" textLength="53.4" lengthAdjust="spacingAndGlyphs">Servicios</text>
<text class="b" transform="translate(869.93 495.8) scale(0.740 1)" font-size="25.9" fill="#a8a1c6" letter-spacing="2.68">3,9%</text>
<text class="b" transform="translate(950.73 494.4) scale(0.740 1)" font-size="25.9" fill="#a8a1c6" letter-spacing="2.55">3,3%</text>
<text x="859.6" y="546.0" font-size="9.4" fill="#726c66" textLength="56.4" lengthAdjust="spacing" stroke="#726c66" stroke-width="0.3">Estacionales</text>
<text x="930.1" y="541.3" font-size="9.4" fill="#726c66" textLength="16.3" lengthAdjust="spacing" stroke="#726c66" stroke-width="0.3">IPC</text>
<text x="923.9" y="551.5" font-size="9.4" fill="#726c66" textLength="31.0" lengthAdjust="spacing" stroke="#726c66" stroke-width="0.3">núcleo</text>
<text x="969.0" y="546.0" font-size="9.4" fill="#726c66" textLength="50.4" lengthAdjust="spacing" stroke="#726c66" stroke-width="0.3">Regulados</text>
<rect x="871.2" y="638.6" width="30.7" height="155.4" fill="#a8a1c6"/>
<rect x="924.2" y="618.1" width="30.7" height="175.9" fill="#a8a1c6"/>
<rect x="979.9" y="704.0" width="30.5" height="90.0" fill="#a8a1c6"/>
<text class="b" transform="translate(868.75 577.0) scale(0.690 1)" font-size="27" fill="#a8a1c6" letter-spacing="0.94" stroke="#a8a1c6" stroke-width="0.35">3,8%</text>
<text class="b" transform="translate(918.85 577.0) scale(0.690 1)" font-size="27" fill="#a8a1c6" letter-spacing="0.84" stroke="#a8a1c6" stroke-width="0.35">4,3%</text>
<text class="b" transform="translate(974.35 577.0) scale(0.690 1)" font-size="27" fill="#a8a1c6" letter-spacing="0.84" stroke="#a8a1c6" stroke-width="0.35">2,2%</text>
</g>
<g id="col6">
<line x1="1104.6" y1="208" x2="1104.6" y2="336.5" stroke="#bab5ad" stroke-width="0.8" stroke-dasharray="2.2 1.5"/>
<path d="M1096.3 219.1L1098.6 219.5L1099.9 221.8L1102.7 223.6L1105.4 225.0L1107.2 227.2L1111.3 228.6L1115.8 229.0L1119.4 229.9L1119.9 233.1L1120.3 236.7L1118.5 236.3L1116.2 235.4L1114.9 237.6L1114.4 240.4L1115.3 243.1L1114.9 246.2L1114.0 249.9L1112.2 253.0L1109.9 255.8L1108.1 258.0L1108.6 260.3L1110.8 261.6L1112.2 263.0L1111.3 265.7L1109.5 268.4L1107.2 271.2L1106.3 273.9L1105.4 277.5L1104.5 281.1L1103.6 282.9L1097.7 282.5L1096.8 280.2L1097.2 277.5L1093.6 277.0L1093.3 273.0L1095.0 270.3L1095.9 266.6L1096.8 262.1L1096.3 258.5L1096.8 254.9L1095.4 251.2L1094.8 246.7L1095.1 242.2L1095.7 237.6L1095.1 234.0L1095.9 229.5L1096.3 224.1Z" fill="#c5d1bd" stroke="#c5d1bd" stroke-width="0.6" stroke-linejoin="round"/>
<path d="M1106.0 287.5L1106.7 290.2L1109.0 292.0L1112.2 293.4L1114.0 294.0L1111.3 295.2L1107.6 294.9L1106.0 293.8Z" fill="#c5d1bd" stroke="#c5d1bd" stroke-width="0.6" stroke-linejoin="round"/>
<path d="M1095.9 237.2L1099.5 233.6L1103.1 230.4L1106.3 227.7" fill="none" stroke="#fefaf2" stroke-width="0.90" stroke-linejoin="round" stroke-linecap="round"/>
<path d="M1095.1 241.9L1115.3 241.4" fill="none" stroke="#fefaf2" stroke-width="0.90" stroke-linejoin="round" stroke-linecap="round"/>
<path d="M1096.3 258.3L1108.1 258.0" fill="none" stroke="#fefaf2" stroke-width="0.90" stroke-linejoin="round" stroke-linecap="round"/>
<text x="1068.0" y="191.7" font-size="16.2" fill="#111" class="b" textLength="79.3" lengthAdjust="spacing" stroke="#111" stroke-width="0.3">Patagonia</text>
<circle cx="1102.8" cy="386.0" r="50.5" fill="#c5d1bd"/>
<text class="b" transform="translate(1080.80 389.1) scale(0.750 1)" font-size="26.8" fill="#111" letter-spacing="1.33" stroke="#111" stroke-width="0.30">3,2%</text>
<line x1="1104.5" y1="454.6" x2="1104.5" y2="498.6" stroke="#c09a50" stroke-width="1.1"/>
<text x="1048.2" y="464.8" font-size="11.2" fill="#857e74" class="b" textLength="39.2" lengthAdjust="spacingAndGlyphs">Bienes</text>
<text x="1120.0" y="464.8" font-size="11.2" fill="#857e74" class="b" textLength="53.4" lengthAdjust="spacingAndGlyphs">Servicios</text>
<text class="b" transform="translate(1042.83 495.8) scale(0.740 1)" font-size="25.9" fill="#c5d1bd" letter-spacing="2.68">3,7%</text>
<text class="b" transform="translate(1123.63 494.4) scale(0.740 1)" font-size="25.9" fill="#c5d1bd" letter-spacing="2.55">2,2%</text>
<text x="1026.2" y="546.0" font-size="9.4" fill="#726c66" textLength="56.3" lengthAdjust="spacing" stroke="#726c66" stroke-width="0.3">Estacionales</text>
<text x="1095.7" y="541.3" font-size="9.4" fill="#726c66" textLength="16.4" lengthAdjust="spacing" stroke="#726c66" stroke-width="0.3">IPC</text>
<text x="1089.5" y="551.5" font-size="9.4" fill="#726c66" textLength="31.0" lengthAdjust="spacing" stroke="#726c66" stroke-width="0.3">núcleo</text>
<text x="1135.2" y="546.0" font-size="9.4" fill="#726c66" textLength="50.1" lengthAdjust="spacing" stroke="#726c66" stroke-width="0.3">Regulados</text>
<rect x="1036.3" y="675.4" width="30.7" height="118.6" fill="#c5d1bd"/>
<rect x="1091.2" y="642.7" width="30.7" height="151.3" fill="#c5d1bd"/>
<rect x="1143.9" y="712.2" width="30.7" height="81.8" fill="#c5d1bd"/>
<text class="b" transform="translate(1034.75 577.0) scale(0.690 1)" font-size="27" fill="#c5d1bd" letter-spacing="0.79" stroke="#c5d1bd" stroke-width="0.35">2,9%</text>
<text class="b" transform="translate(1084.55 577.0) scale(0.690 1)" font-size="27" fill="#c5d1bd" letter-spacing="0.94" stroke="#c5d1bd" stroke-width="0.35">3,7%</text>
<text class="b" transform="translate(1138.95 577.0) scale(0.690 1)" font-size="27" fill="#c5d1bd" letter-spacing="1.08" stroke="#c5d1bd" stroke-width="0.35">2,0%</text>
</g>
<path d="M43.6 789.3 V794.3 H1183.1 V789.3" fill="none" stroke="#111" stroke-width="1.4"/>
<text x="45.3" y="892.8" font-size="14.2" fill="#77706a" textLength="306.7" lengthAdjust="spacing">Fuente: INDEC-Índice de precios al consumidor</text>
<rect x="731.3" y="852.7" width="141.9" height="54.3" rx="27.15" fill="#ddd6cf"/>
<circle cx="758.7" cy="879.9" r="14.3" fill="#7a726b"/>
<text x="746.0" y="883.7" font-size="11.2" fill="#fdfaf4" class="b" textLength="25.4" lengthAdjust="spacingAndGlyphs">www</text>
<text x="777.4" y="885.0" font-size="14.4" fill="#857e78" textLength="83.0" lengthAdjust="spacing">indec.gob.ar</text>
<rect x="893.1" y="852.7" width="282.8" height="54.3" rx="27.15" fill="#ddd6cf"/>
<path transform="translate(904.5 871.8) scale(0.875)" fill="#7a726b" d="M23.953 4.57a10 10 0 01-2.825.775 4.958 4.958 0 002.163-2.723c-.951.555-2.005.959-3.127 1.184a4.92 4.92 0 00-8.384 4.482C7.69 8.095 4.067 6.13 1.64 3.162a4.822 4.822 0 00-.666 2.475c0 1.71.87 3.213 2.188 4.096a4.904 4.904 0 01-2.228-.616v.06a4.923 4.923 0 003.946 4.827 4.996 4.996 0 01-2.212.085 4.936 4.936 0 004.604 3.417 9.867 9.867 0 01-6.102 2.105c-.39 0-.779-.023-1.17-.067a13.995 13.995 0 007.557 2.209c9.053 0 13.998-7.496 13.998-13.985 0-.21 0-.42-.015-.63A9.935 9.935 0 0024 4.59z"/>
<path fill="#7a726b" d="M940.2 890.8 V881 H937.2 V877.3 H940.2 V874.8 C940.2 871.9 942 870.4 944.6 870.4 C945.8 870.4 946.9 870.5 947.5 870.6 V873.9 H945.6 C944.3 873.9 944 874.5 944 875.5 V877.3 H947.4 L946.9 881 H944 V890.8 Z"/>
<rect x="959.9" y="870.1" width="18.9" height="19.4" rx="5" fill="none" stroke="#7a726b" stroke-width="2.1"/>
<circle cx="969.5" cy="879.9" r="4.2" fill="none" stroke="#7a726b" stroke-width="2.0"/>
<circle cx="974.8" cy="874.2" r="1.1" fill="#7a726b"/>
<circle cx="995.2" cy="872" r="2.5" fill="#7a726b"/>
<rect x="993.1" y="876.6" width="4.2" height="14.2" fill="#7a726b"/>
<path fill="#7a726b" d="M1000.6 876.6 H1004.6 V878.5 C1005.3 877.2 1006.9 876.2 1009.2 876.2 C1013.4 876.2 1014.6 878.9 1014.6 882.6 V890.8 H1010.4 V883.5 C1010.4 881.6 1010.3 879.9 1008 879.9 C1005.6 879.9 1004.8 881.5 1004.8 883.4 V890.8 H1000.6 Z"/>
<rect x="1026.3" y="875.7" width="21.7" height="14.7" rx="3.6" fill="#7a726b"/>
<path d="M1034.6 879.6 L1040.2 883.05 L1034.6 886.5 Z" fill="#ddd6cf"/>
<text x="1059.7" y="888.0" font-size="14.2" fill="#857e78" textLength="107.6" lengthAdjust="spacing">INDECArgentina</text>
</svg></body></html>
